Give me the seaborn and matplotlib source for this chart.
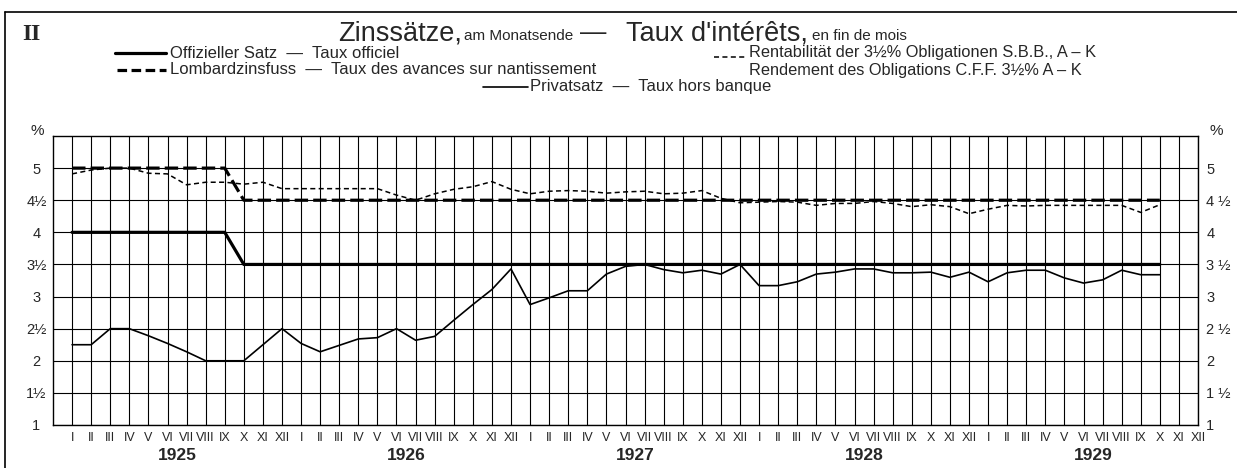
import numpy as np
import pandas as pd
import seaborn as sns
import matplotlib.pyplot as plt
import matplotlib.transforms as mtransforms
from matplotlib.lines import Line2D

# month labels, Jan 1925 - Dec 1929
months = ['I', 'II', 'III', 'IV', 'V', 'VI', 'VII', 'VIII', 'IX', 'X', 'XI', 'XII'] * 5
years = ['1925', '1926', '1927', '1928', '1929']

# end-of-month rates in %, Jan 1925 - Oct 1929
official = [4.0, 4.0, 4.0, 4.0, 4.0, 4.0, 4.0, 4.0, 4.0, 3.5, 3.5, 3.5,
            3.5, 3.5, 3.5, 3.5, 3.5, 3.5, 3.5, 3.5, 3.5, 3.5, 3.5, 3.5,
            3.5, 3.5, 3.5, 3.5, 3.5, 3.5, 3.5, 3.5, 3.5, 3.5, 3.5, 3.5,
            3.5, 3.5, 3.5, 3.5, 3.5, 3.5, 3.5, 3.5, 3.5, 3.5, 3.5, 3.5,
            3.5, 3.5, 3.5, 3.5, 3.5, 3.5, 3.5, 3.5, 3.5, 3.5]
lombard = [5.0, 5.0, 5.0, 5.0, 5.0, 5.0, 5.0, 5.0, 5.0, 4.5, 4.5, 4.5,
           4.5, 4.5, 4.5, 4.5, 4.5, 4.5, 4.5, 4.5, 4.5, 4.5, 4.5, 4.5,
           4.5, 4.5, 4.5, 4.5, 4.5, 4.5, 4.5, 4.5, 4.5, 4.5, 4.5, 4.5,
           4.5, 4.5, 4.5, 4.5, 4.5, 4.5, 4.5, 4.5, 4.5, 4.5, 4.5, 4.5,
           4.5, 4.5, 4.5, 4.5, 4.5, 4.5, 4.5, 4.5, 4.5, 4.5]
bond = [4.91, 4.97, 5.0, 5.0, 4.92, 4.91, 4.74, 4.78, 4.78, 4.75, 4.78, 4.68,
        4.68, 4.68, 4.68, 4.68, 4.68, 4.58, 4.50, 4.60, 4.67, 4.71, 4.79, 4.67,
        4.60, 4.64, 4.65, 4.64, 4.61, 4.63, 4.64, 4.60, 4.61, 4.65, 4.53, 4.46,
        4.47, 4.48, 4.47, 4.42, 4.45, 4.45, 4.48, 4.45, 4.40, 4.43, 4.40, 4.29,
        4.36, 4.42, 4.41, 4.42, 4.42, 4.42, 4.42, 4.42, 4.31, 4.43]
private = [2.25, 2.25, 2.5, 2.5, 2.39, 2.27, 2.14, 2.0, 2.0, 2.0, 2.25, 2.5,
           2.27, 2.14, 2.24, 2.34, 2.36, 2.5, 2.32, 2.38, 2.63, 2.875, 3.11, 3.43,
           2.875, 2.98, 3.09, 3.09, 3.35, 3.47, 3.5, 3.42, 3.37, 3.41, 3.35, 3.5,
           3.17, 3.17, 3.23, 3.35, 3.38, 3.43, 3.43, 3.37, 3.37, 3.38, 3.30, 3.38,
           3.23, 3.37, 3.41, 3.41, 3.29, 3.21, 3.26, 3.41, 3.34, 3.34]

y_ticks = [1, 1.5, 2, 2.5, 3, 3.5, 4, 4.5, 5]
y_labels_left = ['1', '1½', '2', '2½', '3', '3½', '4', '4½', '5']
y_labels_right = ['1', '1 ½', '2', '2 ½', '3', '3 ½', '4', '4 ½', '5']

df = pd.DataFrame({'month': np.arange(len(official)), 'official': official,
                   'lombard': lombard, 'bond': bond, 'private': private})

sns.set_style('white')
plt.rcParams['font.family'] = ['Liberation Sans', 'DejaVu Sans']

W, H = 1237, 468
fig = plt.figure(figsize=(W / 100, H / 100), dpi=100)


def fx(x):
    return x / W


def fy(y):
    return 1 - y / H


ax = fig.add_axes([fx(53), fy(425), (1198 - 53) / W, (425 - 136) / H])

sns.lineplot(data=df, x='month', y='official', ax=ax, color='black', lw=2.3)
sns.lineplot(data=df, x='month', y='lombard', ax=ax, color='black', lw=2.3,
             linestyle=(0, (4.2, 1.6)))
sns.lineplot(data=df, x='month', y='bond', ax=ax, color='black', lw=1.1,
             linestyle=(0, (3.3, 2.2)))
sns.lineplot(data=df, x='month', y='private', ax=ax, color='black', lw=1.2)

ax.set_xlim(-1, 59)
ax.set_ylim(1, 5.5)
ax.set_xticks(range(60))
ax.set_xticklabels(months)
ax.set_yticks(y_ticks)
ax.set_yticklabels(y_labels_left, ha='center')
ax.set_xlabel('')
ax.set_ylabel('')
ax.grid(True, color='black', lw=0.8)
ax.set_axisbelow(True)
for s in ax.spines.values():
    s.set_color('black')
    s.set_linewidth(1.0)
ax.tick_params(axis='x', length=0, pad=5, labelsize=9)
ax.tick_params(axis='y', length=0, pad=12, labelsize=10.5)

ax2 = ax.twinx()
ax2.set_ylim(1, 5.5)
ax2.set_yticks(y_ticks)
ax2.set_yticklabels(y_labels_right)
ax2.tick_params(axis='y', length=0, pad=6, labelsize=10.5)
ax2.grid(False)
for s in ax2.spines.values():
    s.set_visible(False)

# year labels under the months
trans = mtransforms.blended_transform_factory(ax.transData, fig.transFigure)
for k, yr in enumerate(years):
    ax.text(5.5 + 12 * k, fy(456), yr, transform=trans, ha='center', va='center',
            fontsize=12.5, fontweight='bold')

fig.text(fx(37), fy(131), '%', ha='center', va='center', fontsize=11)
fig.text(fx(1216), fy(131), '%', ha='center', va='center', fontsize=11)

# frame
fig.add_artist(Line2D([fx(5), fx(5)], [fy(12), fy(468)], color='black', lw=1.2))
fig.add_artist(Line2D([fx(5), fx(1237)], [fy(12), fy(12)], color='black', lw=1.2))

# title
fig.text(fx(22), fy(40), 'II', fontsize=17, fontweight='bold',
         family=['Liberation Serif', 'DejaVu Serif'], va='baseline')
fig.text(fx(338), fy(40), 'Zinssätze,', fontsize=19.5, va='baseline')
fig.text(fx(464), fy(40), 'am Monatsende', fontsize=11, va='baseline')
fig.text(fx(580), fy(40), '—', fontsize=19, va='baseline')
fig.text(fx(626), fy(40), 'Taux d\'intérêts,', fontsize=19.5, va='baseline')
fig.text(fx(812), fy(40), 'en fin de mois', fontsize=11, va='baseline')

# legend
fig.add_artist(Line2D([fx(115), fx(166)], [fy(53), fy(53)], color='black', lw=2.3))
fig.text(fx(170), fy(53), 'Offizieller Satz  —  Taux officiel', fontsize=12, va='center')
fig.add_artist(Line2D([fx(117), fx(166)], [fy(70), fy(70)], color='black', lw=2.3,
                      linestyle=(0, (3.0, 1.4))))
fig.text(fx(170), fy(70), 'Lombardzinsfuss  —  Taux des avances sur nantissement',
         fontsize=12, va='center')
fig.add_artist(Line2D([fx(483), fx(528)], [fy(87), fy(87)], color='black', lw=1.2))
fig.text(fx(530), fy(87), 'Privatsatz  —  Taux hors banque', fontsize=12, va='center')
fig.add_artist(Line2D([fx(714), fx(746)], [fy(57), fy(57)], color='black', lw=1.1,
                      linestyle=(0, (3.3, 2.2))))
fig.text(fx(749), fy(53), 'Rentabilität der 3½% Obligationen S.B.B., A – K',
         fontsize=11.8, va='center')
fig.text(fx(749), fy(70), 'Rendement des Obligations C.F.F. 3½% A – K',
         fontsize=11.8, va='center')

fig.savefig('out.png', dpi=100)
